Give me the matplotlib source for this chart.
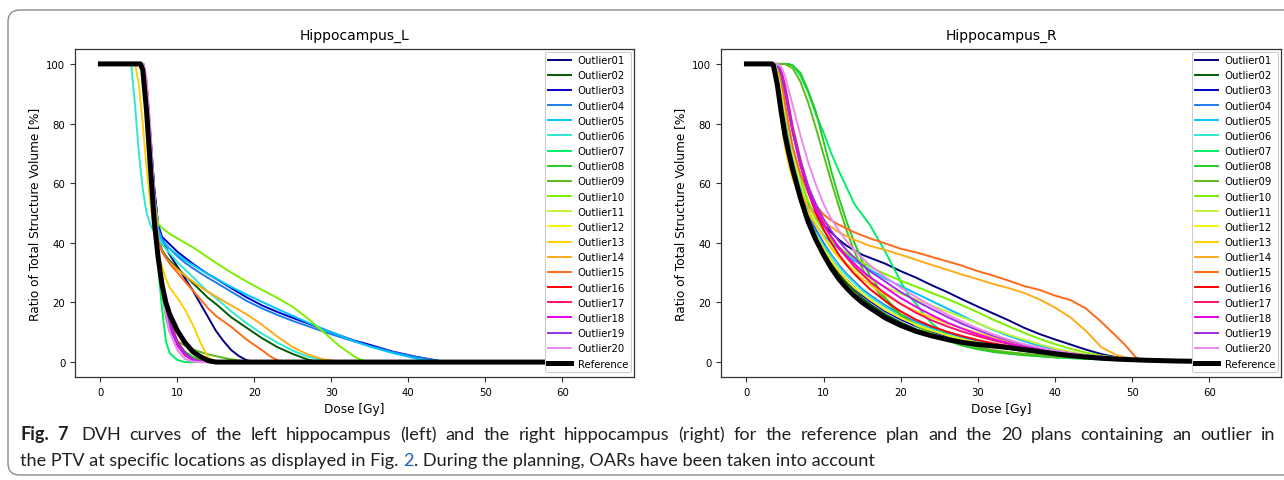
"""
DVH curves of the left and right hippocampus (Fig. 7 recreation).
"""

import matplotlib
matplotlib.use("Agg")
import matplotlib.pyplot as plt
from matplotlib.patches import FancyBboxPatch

W, H = 1284, 481

LABELS = ["Outlier01", "Outlier02", "Outlier03", "Outlier04", "Outlier05",
          "Outlier06", "Outlier07", "Outlier08", "Outlier09", "Outlier10",
          "Outlier11", "Outlier12", "Outlier13", "Outlier14", "Outlier15",
          "Outlier16", "Outlier17", "Outlier18", "Outlier19", "Outlier20"]

COLORS = ["#000080", "#005a00", "#0000cd", "#1e7cf0", "#00c4ff",
          "#30e8d0", "#00ee66", "#22cc22", "#5cbb1a", "#7cf000",
          "#c4f53a", "#f5f500", "#ffd000", "#ffab1a", "#ff6a1a",
          "#ff0000", "#ff1060", "#e800e8", "#9a30e8", "#ee88ee"]

# (dose [Gy], volume [%])
LEFT = {
    "Outlier01": [(0, 100), (5.5, 100), (6, 93), (6.5, 76), (7, 58), (7.5, 46), (8, 41), (9, 36), (10, 32),
                  (11, 28), (12, 24), (13, 19.5), (14, 15), (15, 10.5), (16, 7), (17, 4), (18, 2), (19, 0.6),
                  (20, 0), (66, 0)],
    "Outlier02": [(0, 100), (5.5, 100), (6, 93), (6.5, 75), (7, 56), (7.5, 42), (8, 37.5), (8.5, 35.5),
                  (9, 34), (10, 31.5), (11, 29), (12, 26.5), (13, 24), (14, 21.5), (15, 19.5), (17, 15),
                  (19, 11.5), (21, 8), (23, 5), (25, 2.7), (27, 0.8), (28.5, 0), (66, 0)],
    "Outlier03": [(0, 100), (5.5, 100), (6, 93), (6.5, 76), (7, 58), (7.5, 46), (8, 42), (9, 39.5), (10, 37),
                  (11, 35), (12, 33), (13, 31.2), (14, 29.5), (15, 28), (17, 24.8), (19, 21.7), (21, 19),
                  (23, 16.8), (25, 14.8), (27, 12.9), (29, 11), (31, 9), (33, 7.2), (35, 5.8), (38, 3.5),
                  (41, 1.8), (44, 0.4), (46, 0), (66, 0)],
    "Outlier04": [(0, 100), (5.5, 100), (6, 92), (6.5, 74), (7, 56), (7.5, 45), (8, 41), (9, 38), (10, 35.5),
                  (11, 33.3), (12, 31.5), (13, 29.8), (14, 28.2), (15, 26.7), (17, 23.6), (19, 20.5), (21, 18),
                  (23, 15.8), (25, 13.8), (27, 12), (29, 10.2), (31, 8.5), (33, 6.9), (35, 5.4), (38, 3.4),
                  (41, 1.7), (44, 0.4), (46, 0), (66, 0)],
    "Outlier05": [(0, 100), (5.5, 100), (6, 92), (6.5, 74), (7, 56), (7.5, 44), (8, 40.5), (9, 38), (10, 36),
                  (11, 34.2), (12, 32.6), (13, 31), (14, 29.5), (15, 28), (17, 25.2), (19, 22.6), (21, 20.2),
                  (23, 17.8), (25, 15.5), (27, 13.2), (29, 11), (31, 9), (33, 7), (35, 5.2), (38, 3),
                  (41, 1.2), (43, 0.3), (45, 0), (66, 0)],
    "Outlier06": [(0, 100), (4, 100), (4.5, 86), (5, 70), (5.5, 58), (6, 50), (6.5, 46), (7, 43.5),
                  (7.5, 41.5), (8, 39.5), (9, 36.5), (10, 33.5), (11, 31), (12, 28.5), (13, 26), (14, 23.5),
                  (15, 21.5), (17, 17), (19, 13), (21, 9.5), (23, 6.5), (25, 3.8), (27, 1.8), (29, 0.5),
                  (30.5, 0), (66, 0)],
    "Outlier07": [(0, 100), (5.2, 100), (5.5, 97), (6, 82), (6.5, 63), (7, 46), (7.5, 32), (8, 18), (8.5, 7),
                  (9, 3), (10, 0.7), (11, 0), (66, 0)],
    "Outlier08": [(0, 100), (5.2, 100), (5.5, 96), (6, 81), (6.5, 62), (7, 45), (7.5, 33), (8, 24), (8.5, 17),
                  (9, 12), (10, 6.5), (11, 3.5), (12, 1.8), (13, 0.8), (14, 0.2), (15, 0), (66, 0)],
    "Outlier09": [(0, 100), (5.2, 100), (5.5, 97), (6, 82), (6.5, 63), (7, 46), (7.5, 34), (8, 24), (8.5, 15),
                  (9, 10), (10, 7), (11, 5.5), (12, 4.3), (13, 3.4), (14, 2.6), (15, 2), (17, 0.9),
                  (19, 0.2), (21, 0), (66, 0)],
    "Outlier10": [(0, 100), (5.5, 100), (6, 92), (6.5, 72), (7, 55), (7.5, 46.5), (8, 45), (8.5, 44), (9, 43),
                  (10, 41.5), (11, 40), (12, 38.5), (13, 36.8), (14, 35), (15, 33.3), (17, 30), (19, 27),
                  (21, 24.2), (23, 21.5), (25, 18.5), (27, 14.5), (29, 10), (31, 5.5), (33, 1.8), (34.5, 0),
                  (66, 0)],
    "Outlier11": [(0, 100), (5.2, 100), (5.5, 98), (6, 83), (6.5, 64), (7, 46), (7.5, 35), (8, 27), (8.5, 21),
                  (9, 16.5), (10, 11), (11, 7), (12, 4), (13, 2), (14, 0.7), (15, 0.1), (16, 0), (66, 0)],
    "Outlier12": [(0, 100), (5.2, 100), (5.5, 97), (6, 80), (6.5, 62), (7, 45), (7.5, 34), (8, 26), (8.5, 20),
                  (9, 15.5), (10, 10), (11, 6), (12, 3), (13, 1.2), (14, 0.3), (15, 0), (66, 0)],
    "Outlier13": [(0, 100), (4.5, 100), (5, 93), (5.5, 80), (6, 65), (6.5, 53), (7, 44), (7.5, 37), (8, 32),
                  (8.5, 28), (9, 25), (10, 21.5), (11, 17.5), (12, 12.5), (13, 6.5), (14, 1.5), (15, 0),
                  (66, 0)],
    "Outlier14": [(0, 100), (5.5, 100), (6, 92), (6.5, 73), (7, 54), (7.5, 41), (8, 37), (8.5, 35), (9, 33.5),
                  (10, 31), (11, 29), (12, 27), (13, 25.2), (14, 23.5), (15, 22), (17, 19), (19, 16),
                  (21, 12.5), (23, 8.5), (25, 5), (27, 2.5), (29, 0.9), (31, 0.2), (32.5, 0), (66, 0)],
    "Outlier15": [(0, 100), (5.5, 100), (6, 93), (6.5, 74), (7, 55), (7.5, 41), (8, 37), (9, 33), (10, 30),
                  (11, 27), (12, 24), (13, 21), (14, 18), (15, 15.5), (17, 11.8), (19, 7.5), (21, 4), (22, 2),
                  (23, 0.6), (24, 0), (66, 0)],
    "Outlier16": [(0, 100), (5.5, 100), (6, 92), (6.5, 72), (7, 52), (7.5, 37), (8, 27), (8.5, 20), (9, 14),
                  (10, 7), (11, 3), (12, 1), (13, 0.2), (14, 0), (66, 0)],
    "Outlier17": [(0, 100), (5.6, 100), (6, 94), (6.5, 74), (7, 53), (7.5, 38), (8, 27), (8.5, 19), (9, 13),
                  (10, 6.5), (11, 2.8), (12, 0.8), (13, 0.1), (14, 0), (66, 0)],
    "Outlier18": [(0, 100), (5.4, 100), (5.5, 99), (6, 90), (6.5, 70), (7, 50), (7.5, 36), (8, 26), (8.5, 18),
                  (9, 12), (10, 5.5), (11, 2.2), (12, 0.6), (13, 0), (66, 0)],
    "Outlier19": [(0, 100), (5.4, 100), (5.5, 99), (6, 90), (6.5, 70), (7, 51), (7.5, 37), (8, 27), (8.5, 19),
                  (9, 13), (10, 6.5), (11, 3), (12, 1), (13, 0.2), (14, 0), (66, 0)],
    "Outlier20": [(0, 100), (5.6, 100), (6, 95), (6.5, 78), (7, 56), (7.5, 38), (8, 25), (8.5, 16), (9, 10),
                  (10, 4), (11, 1), (12, 0.2), (13, 0), (66, 0)],
}
LEFT_REF = [(0, 100), (5.2, 100), (5.5, 98), (6, 84), (6.5, 65), (7, 47), (7.5, 35), (8, 26), (8.5, 20),
            (9, 16), (10, 10.5), (11, 6.5), (12, 3.5), (13, 1.8), (14, 0.5), (15, 0), (66, 0)]

# (dose [Gy], volume [%])
TAIL = [(52, 0.6), (56, 0.35), (60, 0.2), (66, 0.1)]
RIGHT = {
    "Outlier01": [(0, 100), (3.5, 100), (4, 97), (4.5, 90), (5, 82), (5.5, 75), (6, 69), (7, 60), (8, 53),
                  (9, 49), (10, 46), (11, 43.5), (12, 41), (13, 39), (14, 37.5), (15, 36), (16, 35), (18, 33),
                  (20, 30.5), (22, 28.3), (24, 25.8), (26, 23.5), (28, 21), (30, 18.6), (32, 16.3), (34, 14),
                  (36, 11.5), (38, 9.4), (40, 7.6), (42, 5.9), (44, 4.2), (46, 2.7), (48, 1.6), (50, 1)] + TAIL,
    "Outlier02": [(0, 100), (3.5, 100), (4, 95), (4.5, 86), (5, 78), (5.5, 71), (6, 65.5), (7, 56), (8, 48),
                  (9, 42), (10, 37), (11, 33), (12, 29.5), (13, 26.5), (14, 24), (15, 21.5), (16, 19.5),
                  (18, 16), (20, 13.3), (22, 11), (24, 9.3), (26, 8), (28, 6.8), (30, 5.9), (32, 5.1),
                  (34, 4.4), (36, 3.7), (40, 2.6), (44, 1.7), (48, 1.1)] + TAIL,
    "Outlier03": [(0, 100), (3.5, 100), (4, 96), (4.5, 88), (5, 80), (5.5, 73), (6, 67), (7, 57), (8, 49),
                  (9, 43), (10, 38), (11, 34), (12, 30.5), (13, 27.5), (14, 25), (15, 22.5), (16, 20.5),
                  (18, 17), (20, 14.3), (22, 12), (24, 10.2), (26, 8.7), (28, 7.4), (30, 6.3), (32, 5.4),
                  (34, 4.6), (36, 3.9), (40, 2.8), (44, 1.9), (48, 1.2)] + TAIL,
    "Outlier04": [(0, 100), (3.5, 100), (4, 96), (4.5, 89), (5, 81), (5.5, 74), (6, 68), (7, 58), (8, 50),
                  (9, 44.5), (10, 40), (11, 36), (12, 32.5), (13, 29.5), (14, 27), (15, 24.5), (16, 22.5),
                  (18, 19), (20, 16), (22, 13.5), (24, 11.5), (26, 9.8), (28, 8.3), (30, 7), (32, 6), (34, 5),
                  (36, 4.2), (40, 3), (44, 2), (48, 1.3)] + TAIL,
    "Outlier05": [(0, 100), (3.5, 100), (4, 96), (4.5, 88), (5, 80), (5.5, 73), (6, 67), (7, 58), (8, 51),
                  (9, 46), (10, 42.5), (11, 40), (12, 38), (13, 36), (14, 34), (15, 32.5), (16, 31), (18, 28),
                  (20, 25.5), (22, 23), (24, 20.5), (26, 18), (28, 15.5), (30, 13), (32, 10.8), (34, 8.8),
                  (36, 7), (38, 5.5), (40, 4.2), (42, 3.2), (44, 2.3), (46, 1.6), (48, 1.1), (50, 0.8)] + TAIL,
    "Outlier06": [(0, 100), (3.5, 100), (4, 95), (4.5, 85), (5, 76), (5.5, 69), (6, 63), (7, 54), (8, 47.5),
                  (9, 43), (10, 39), (11, 35.5), (12, 32), (13, 29), (14, 26.5), (15, 24), (16, 22), (18, 18.5),
                  (20, 15.5), (22, 13), (24, 11), (26, 9.3), (28, 7.8), (30, 6.5), (32, 5.5), (34, 4.6),
                  (36, 3.8), (40, 2.6), (44, 1.8), (48, 1.1)] + TAIL,
    "Outlier07": [(0, 100), (5.5, 100), (6, 99.5), (7, 96), (8, 90.5), (9, 83), (10, 77), (11, 70), (12, 64),
                  (13, 58.5), (14, 53), (15, 49.5), (16, 46), (17, 41.5), (18, 37), (19, 32), (20, 27),
                  (21, 22.5), (22, 19.5), (23, 16), (24, 13), (26, 9), (28, 6.2), (30, 4.6), (32, 3.6), (34, 3),
                  (36, 2.5), (38, 2), (40, 1.6), (42, 1.3), (44, 1.1), (46, 0.9), (50, 0.6)] + TAIL[1:],
    "Outlier08": [(0, 100), (5, 100), (6, 99.5), (7, 97), (8, 91), (9, 84), (10, 74), (11, 64), (12, 55),
                  (13, 47), (14, 40), (15, 34), (16, 29), (18, 21.5), (20, 16), (22, 12.3), (24, 9.4), (26, 7.2),
                  (28, 5.5), (30, 4.3), (32, 3.4), (34, 2.8), (36, 2.3), (40, 1.6), (44, 1.2), (50, 0.7)]
                 + TAIL[1:],
    "Outlier09": [(0, 100), (5, 100), (6, 98.5), (7, 94), (8, 87), (9, 78.5), (10, 69.5), (11, 60.5), (12, 52),
                  (13, 44), (14, 37), (15, 31.5), (16, 27), (18, 20.5), (20, 15.8), (22, 12.3), (24, 9.7),
                  (26, 7.7), (28, 6.1), (30, 4.9), (32, 4), (34, 3.3), (36, 2.8), (40, 2), (44, 1.4), (50, 0.8)]
                 + TAIL[1:],
    "Outlier10": [(0, 100), (3.5, 100), (4, 98), (4.5, 93), (5, 86), (5.5, 79), (6, 72), (7, 62), (8, 54),
                  (9, 48), (10, 44), (11, 41), (12, 38.5), (13, 36.5), (14, 35), (15, 33.5), (16, 32),
                  (18, 29.5), (20, 27.3), (22, 25.3), (24, 23.2), (26, 21.2), (28, 19), (30, 16.7), (32, 14.2),
                  (34, 12), (36, 9.8), (38, 7.8), (40, 6), (42, 4.5), (44, 3.2), (46, 2.2), (48, 1.5), (50, 1)]
                 + TAIL,
    "Outlier11": [(0, 100), (3.5, 100), (4, 97), (4.5, 91), (5, 84), (5.5, 77), (6, 70), (7, 60), (8, 52),
                  (9, 46), (10, 42), (11, 38.5), (12, 35.5), (13, 33), (14, 31), (15, 29.3), (16, 27.8),
                  (18, 25.2), (20, 23), (22, 21), (24, 19), (26, 17), (28, 15), (30, 13), (32, 11), (34, 9.2),
                  (36, 7.5), (38, 6), (40, 4.6), (42, 3.5), (44, 2.5), (46, 1.8), (48, 1.2), (50, 0.9)] + TAIL,
    "Outlier12": [(0, 100), (3.4, 100), (3.5, 99.5), (4, 93), (4.5, 84), (5, 76), (5.5, 70), (6, 64.5),
                  (7, 55.5), (8, 48), (9, 42.5), (10, 38), (11, 34), (12, 30.5), (13, 27.5), (14, 25), (15, 23),
                  (16, 21), (18, 17.5), (20, 14.8), (22, 12.5), (24, 10.6), (26, 9), (28, 7.6), (30, 6.5),
                  (32, 5.5), (34, 4.7), (36, 4), (40, 2.8), (44, 1.9), (48, 1.2)] + TAIL,
    "Outlier13": [(0, 100), (3.3, 100), (3.5, 99), (4, 91), (4.5, 81), (5, 72), (5.5, 66), (6, 61.5), (7, 55),
                  (8, 50), (9, 46), (10, 42), (11, 38), (12, 35), (13, 32.5), (14, 30), (15, 28), (16, 26),
                  (18, 22.5), (20, 19.5), (22, 17), (24, 15), (26, 13), (28, 11.3), (30, 9.7), (32, 8.2),
                  (34, 6.8), (36, 5.6), (38, 4.5), (40, 3.6), (44, 2.3), (48, 1.4)] + TAIL,
    "Outlier14": [(0, 100), (3.5, 100), (4, 96), (4.5, 88), (5, 79), (5.5, 71), (6, 65), (7, 57), (8, 52),
                  (9, 49), (10, 47), (12, 43.5), (14, 41), (16, 39), (18, 37.6), (20, 36), (22, 34.3),
                  (24, 32.6), (26, 31), (28, 29.3), (30, 27.8), (32, 26.2), (34, 24.8), (36, 23.2), (38, 21),
                  (40, 18.3), (42, 15), (44, 10.5), (46, 5), (48, 2.3), (50, 1.1)] + TAIL,
    "Outlier15": [(0, 100), (4, 100), (4.5, 95), (5, 87), (5.5, 79), (6, 72), (7, 63), (8, 57), (9, 52.5),
                  (10, 49.5), (11, 47.5), (12, 46), (13, 44.8), (14, 43.5), (15, 42.5), (16, 41.5), (18, 39.8),
                  (20, 38), (22, 36.8), (24, 35.3), (26, 33.8), (28, 32.3), (30, 30.5), (32, 29), (34, 27.3),
                  (36, 25.5), (38, 24.2), (40, 22.3), (42, 20.8), (44, 18), (46, 13.5), (48, 8.5), (49, 6),
                  (50, 3), (50.5, 1.5), (51, 0.9)] + TAIL,
    "Outlier16": [(0, 100), (4, 100), (4.5, 97), (5, 91), (5.5, 84), (6, 77), (7, 66), (8, 57), (9, 50),
                  (10, 44.5), (11, 40), (12, 36), (13, 32.5), (14, 29.5), (15, 27), (16, 24.5), (18, 20.5),
                  (20, 17), (22, 14.2), (24, 12), (26, 10.2), (28, 8.7), (30, 7.4), (32, 6.3), (34, 5.3),
                  (36, 4.4), (40, 3), (44, 2), (48, 1.2)] + TAIL,
    "Outlier17": [(0, 100), (4, 100), (4.5, 98), (5, 93), (5.5, 86), (6, 79), (7, 68), (8, 59), (9, 52),
                  (10, 46.5), (11, 42), (12, 38), (13, 35), (14, 32), (15, 29.5), (16, 27), (18, 23),
                  (20, 19.5), (22, 16.5), (24, 14), (26, 12), (28, 10.2), (30, 8.7), (32, 7.3), (34, 6.1),
                  (36, 5), (40, 3.4), (44, 2.2), (48, 1.3)] + TAIL,
    "Outlier18": [(0, 100), (4, 100), (4.5, 97), (5, 91), (5.5, 84), (6, 77), (7, 66), (8, 57.5), (9, 51),
                  (10, 46), (11, 42), (12, 38.5), (13, 35.5), (14, 33), (15, 30.5), (16, 28.5), (18, 25),
                  (20, 21.5), (22, 18.5), (24, 15.8), (26, 13.3), (28, 11.2), (30, 9.3), (32, 7.7), (34, 6.3),
                  (36, 5.1), (40, 3.4), (44, 2.2), (48, 1.3)] + TAIL,
    "Outlier19": [(0, 100), (4, 100), (4.5, 97), (5, 91), (5.5, 84), (6, 77.5), (7, 67), (8, 59), (9, 53),
                  (10, 48), (11, 44), (12, 40.5), (13, 37.5), (14, 35), (15, 32.5), (16, 30.5), (18, 27),
                  (20, 23.5), (22, 20.5), (24, 17.8), (26, 15.2), (28, 12.8), (30, 10.7), (32, 8.8), (34, 7.2),
                  (36, 5.8), (40, 3.7), (44, 2.3), (48, 1.4)] + TAIL,
    "Outlier20": [(0, 100), (4, 100), (4.5, 99), (5, 96), (5.5, 91), (6, 86), (7, 76), (8, 67), (9, 59.5),
                  (10, 53), (11, 48), (12, 44), (13, 40.5), (14, 37.5), (15, 35), (16, 32.5), (18, 28.5),
                  (20, 25), (22, 21.8), (24, 18.8), (26, 16), (28, 13.5), (30, 11.3), (32, 9.3), (34, 7.5),
                  (36, 6), (40, 3.8), (44, 2.3), (48, 1.4)] + TAIL,
}
RIGHT_REF = [(0, 100), (3.3, 100), (3.5, 99.5), (4, 93), (4.5, 84), (5, 76), (5.5, 70), (6, 64.5), (7, 55),
             (8, 47), (9, 41), (10, 36), (11, 31.5), (12, 27.8), (13, 24.8), (14, 22.2), (15, 20), (16, 18.2),
             (18, 14.8), (20, 12.3), (22, 10.3), (24, 8.8), (26, 7.6), (28, 6.6), (30, 5.9), (32, 5.4), (34, 4.9),
             (36, 4.2), (38, 3.5), (40, 2.8), (42, 2.2), (44, 1.7), (46, 1.3), (48, 1), (50, 0.8)] + TAIL

TITLES = ["Hippocampus_L", "Hippocampus_R"]
XTICKS = [0, 10, 20, 30, 40, 50, 60]
YTICKS = [0, 20, 40, 60, 80, 100]

CAP_BOLD = ["Fig.", "7"]
CAP_LINE1 = ("DVH curves of the left hippocampus (left) and the right hippocampus (right) for the reference "
             "plan and the 20 plans containing an outlier in")
CAP_LINE2A = "the PTV at specific locations as displayed in Fig."
CAP_LINK = "2"
CAP_LINE2B = ". During the planning, OARs have been taken into account"
CAP_FAMILY = ["Lato", "DejaVu Sans"]
CAP_COLOR = "#231f20"


def draw_panel(ax, curves, ref, title):
    for label, color in zip(LABELS, COLORS):
        d, v = zip(*curves[label])
        ax.plot(d, v, color=color, lw=1.4, label=label)
    d, v = zip(*ref)
    ax.plot(d, v, color="black", lw=3.6, label="Reference")
    ax.set_xlim(-3.3, 69.3)
    ax.set_ylim(-5, 105)
    ax.set_xticks(XTICKS)
    ax.set_yticks(YTICKS)
    ax.tick_params(labelsize=7.3, length=3.5, color="#333333")
    for s in ax.spines.values():
        s.set_color("#333333")
        s.set_linewidth(0.9)
    ax.set_title(title, fontsize=10, pad=7)
    ax.set_xlabel("Dose [Gy]", fontsize=8.7)
    ax.set_ylabel("Ratio of Total Structure Volume [%]", fontsize=8.7)
    leg = ax.legend(loc="upper right", fontsize=7.3, handlelength=2.3, labelspacing=0.51,
                    borderaxespad=0.3, borderpad=0.3, handletextpad=0.6, framealpha=1.0)
    leg.get_frame().set_edgecolor("#cccccc")
    leg.get_frame().set_linewidth(0.8)


def text_width(fig, r, s, fs, weight="normal"):
    t = fig.text(0, 0, s, fontsize=fs, fontweight=weight, family=CAP_FAMILY)
    w = t.get_window_extent(renderer=r).width
    t.remove()
    return w


def draw_caption(fig):
    r = fig.canvas.get_renderer()
    x0, line1_end = 20, 1275

    words = [(w, "bold") for w in CAP_BOLD] + [(w, "normal") for w in CAP_LINE1.split()]

    # pick the size so the first line is a little short of the full width, then justify it
    fs = 10.0
    natural = text_width(fig, r, "Fig. 7  " + CAP_LINE1, fs)
    fs = fs * 0.92 * (line1_end - x0) / natural

    y1, y2 = 1 - 435 / H, 1 - 461 / H
    kw = dict(fontsize=fs, family=CAP_FAMILY, va="center", color=CAP_COLOR)

    widths = [text_width(fig, r, w, fs, wt) for w, wt in words]
    extra = 0.35 * fs  # wider gap after the figure label
    space = (line1_end - x0 - sum(widths) - extra) / (len(words) - 1)
    x = x0
    for i, ((w, wt), wd) in enumerate(zip(words, widths)):
        fig.text(x / W, y1, w, fontweight=wt, **kw)
        x += wd + space + (extra if i == 1 else 0)

    fig.text(x0 / W, y2, CAP_LINE2A, **kw)
    w_link_end = text_width(fig, r, CAP_LINE2A + " " + CAP_LINK, fs)
    w_link = text_width(fig, r, CAP_LINK, fs)
    fig.text((x0 + w_link_end - w_link) / W, y2, CAP_LINK, **dict(kw, color="#1f5fbf"))
    fig.text((x0 + w_link_end) / W, y2, CAP_LINE2B, **kw)


def main():
    fig = plt.figure(figsize=(W / 100, H / 100), dpi=100, facecolor="white")

    # rounded frame around the figure and caption
    frame = FancyBboxPatch((0.08, 0.05), 13.0, 4.65, boxstyle="round,pad=0,rounding_size=0.12",
                           transform=fig.dpi_scale_trans, facecolor="none", edgecolor="#8a8a8a",
                           linewidth=1.0, zorder=0)
    fig.patches.append(frame)

    ax_l = fig.add_axes([75 / W, 1 - 378 / H, 559 / W, 328 / H])
    ax_r = fig.add_axes([721 / W, 1 - 378 / H, 560 / W, 328 / H])
    draw_panel(ax_l, LEFT, LEFT_REF, TITLES[0])
    draw_panel(ax_r, RIGHT, RIGHT_REF, TITLES[1])

    draw_caption(fig)

    fig.savefig("out.png", dpi=100, facecolor="white")
    plt.close(fig)


if __name__ == "__main__":
    main()
